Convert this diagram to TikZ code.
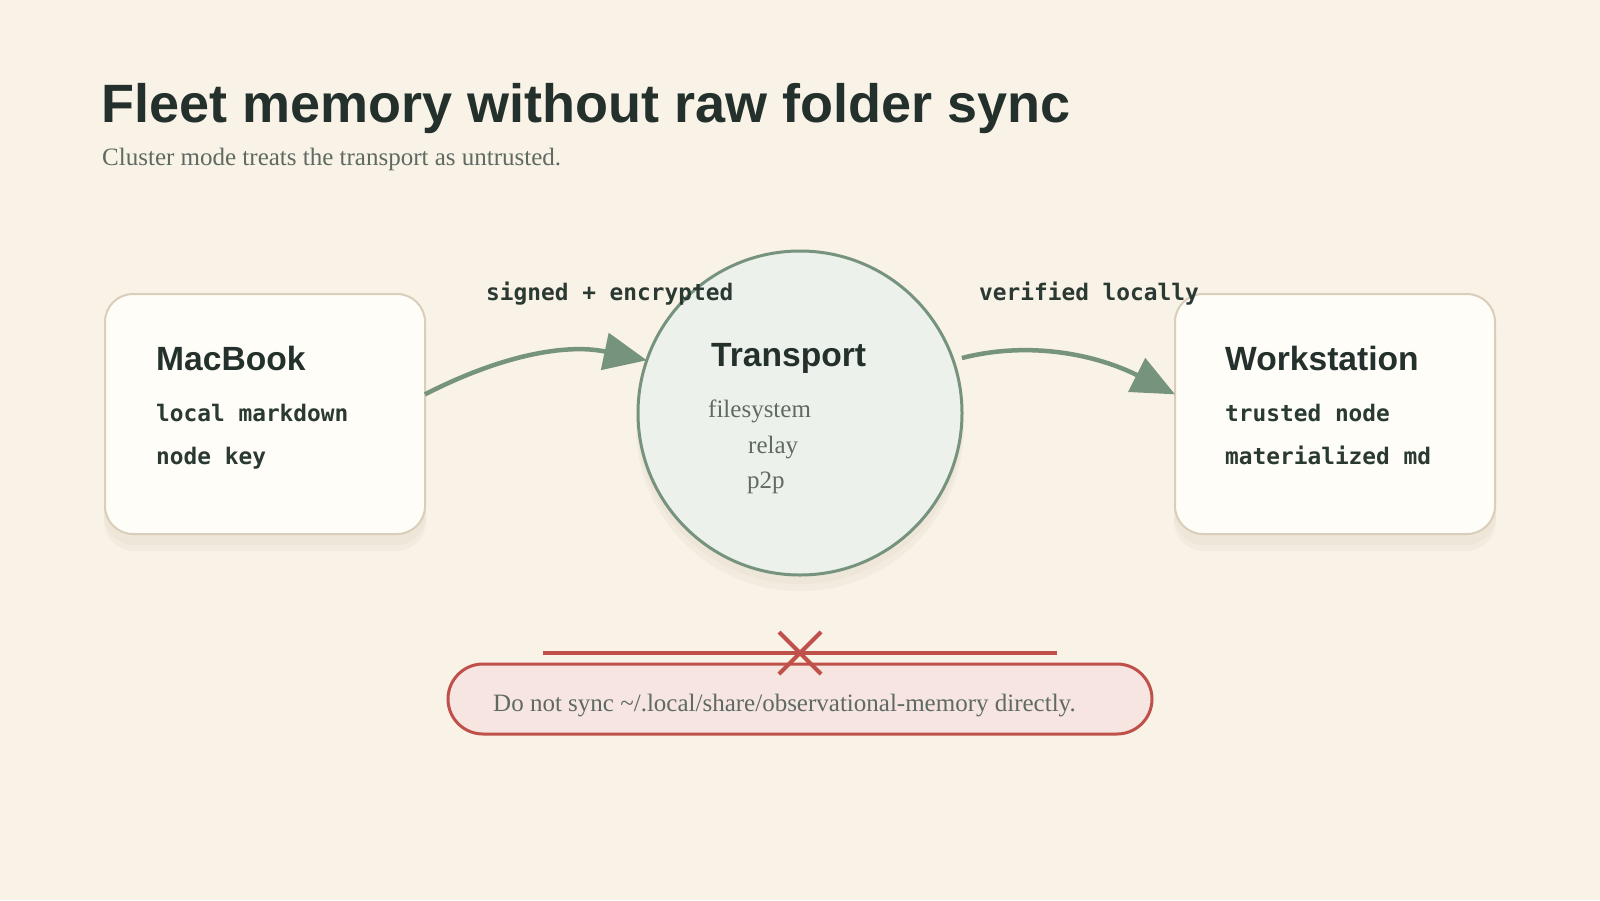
\documentclass[tikz,border=0pt]{standalone}
\usepackage{fontspec}
\setmainfont{Liberation Serif}
\setsansfont{Liberation Sans}
\setmonofont{DejaVu Sans Mono}
\usetikzlibrary{arrows.meta}
\definecolor{bg}{HTML}{F9F2E7}
\definecolor{ink}{HTML}{24302B}
\definecolor{monoink}{HTML}{2B3933}
\definecolor{muted}{HTML}{5F6A62}
\definecolor{boxfill}{HTML}{FFFDF7}
\definecolor{boxline}{HTML}{D9CEB9}
\definecolor{shadowc}{HTML}{EAE0D1}
\definecolor{sage}{HTML}{76937E}
\definecolor{circfill}{HTML}{EDF1EC}
\definecolor{warn}{HTML}{C0504A}
\definecolor{warnfill}{HTML}{F6E5E1}
\begin{document}
\begin{tikzpicture}[x=1pt,y=-1pt,
 card/.style={draw=boxline, line width=2pt, fill=boxfill, rounded corners=28pt, minimum width=320pt, minimum height=240pt, inner sep=0pt, outer sep=0pt},
 cardshadow/.style={fill=shadowc, rounded corners=30pt, minimum width=322pt, minimum height=242pt, inner sep=0pt},
 cardtitle/.style={anchor=base west, inner sep=0pt, font=\fontsize{33.6}{40}\selectfont\sffamily\bfseries, text=ink},
 monotext/.style={anchor=base west, inner sep=0pt, font=\fontsize{22.8}{28}\selectfont\ttfamily\bfseries, text=monoink},
 serifnote/.style={anchor=base west, inner sep=0pt, font=\fontsize{25}{30}\selectfont\rmfamily, text=muted},
 flow/.style={draw=sage, line width=4.5pt, -{Triangle[length=43pt,width=37pt]}},
 warnline/.style={draw=warn, line width=4pt},
]
\fill[bg] (0,0) rectangle (1600,900);
\useasboundingbox (0,0) rectangle (1600,900);

% title
\node[anchor=base west, inner sep=0pt, font=\fontsize{54}{60}\selectfont\sffamily\bfseries, text=ink] (title) at (101,122) {Fleet memory without raw folder sync};
\node[serifnote] (subtitle) at (102,165) {Cluster mode treats the transport as untrusted.};

% shadows
\node[cardshadow, opacity=0.35] (macsh) at (265,430) {};
\node[cardshadow, opacity=0.45] (macsh2) at (265,424) {};
\node[cardshadow, opacity=0.35] (wssh) at (1335,430) {};
\node[cardshadow, opacity=0.45] (wssh2) at (1335,424) {};
\node[circle, fill=shadowc, minimum size=328pt, inner sep=0pt, opacity=0.35] (trsh) at (800,427) {};
\node[circle, fill=shadowc, minimum size=326pt, inner sep=0pt, opacity=0.45] (trsh2) at (800,421) {};

% cards
\node[card] (mac) at (265,414) {};
\node[card] (ws) at (1335,414) {};
\node[circle, draw=sage, line width=3pt, fill=circfill, minimum size=324pt, inner sep=0pt, outer sep=0pt] (tr) at (800,413) {};

% card texts
\node[cardtitle] (macT) at (156,370) {MacBook};
\node[monotext] (mac1) at (156,421) {local markdown};
\node[monotext] (mac2) at (156,464) {node key};
\node[cardtitle] (wsT) at (1225,370) {Workstation};
\node[monotext] (ws1) at (1225,421) {trusted node};
\node[monotext] (ws2) at (1225,464) {materialized md};

\node[cardtitle] (trT) at (711,366) {Transport};
\node[serifnote] (tr1) at (708,417) {filesystem};
\node[serifnote] (tr2) at (748,453) {relay};
\node[serifnote] (tr3) at (747,488) {p2p};

% connectors
\draw[flow] (mac.7) .. controls +(76,-39) and +(-81,-17) .. (tr.161);
\draw[flow, shorten <=9pt] (tr.19) .. controls +(78,-20) and +(-77,-39) .. (ws.173);

\node[monotext] (lab1) at (486,300) {signed + encrypted};
\node[monotext] (lab2) at (979,300) {verified locally};

% warning
\node[draw=warn, line width=3pt, fill=warnfill, minimum width=704pt, minimum height=70pt, rounded corners=35pt, inner sep=0pt] (pill) at (800,699) {};
\node[serifnote] (pillT) at (493,711) {Do not sync \char`\~/.local/share/observational-memory directly.};
\coordinate (rl) at (543,653);
\coordinate (rr) at (1057,653);
\coordinate (xa) at (779,632);
\coordinate (xb) at (821,674);
\coordinate (xc) at (821,632);
\coordinate (xd) at (779,674);
\draw[warnline] (rl) -- (rr);
\draw[warnline] (xa) -- (xb);
\draw[warnline] (xc) -- (xd);
\end{tikzpicture}
\end{document}
